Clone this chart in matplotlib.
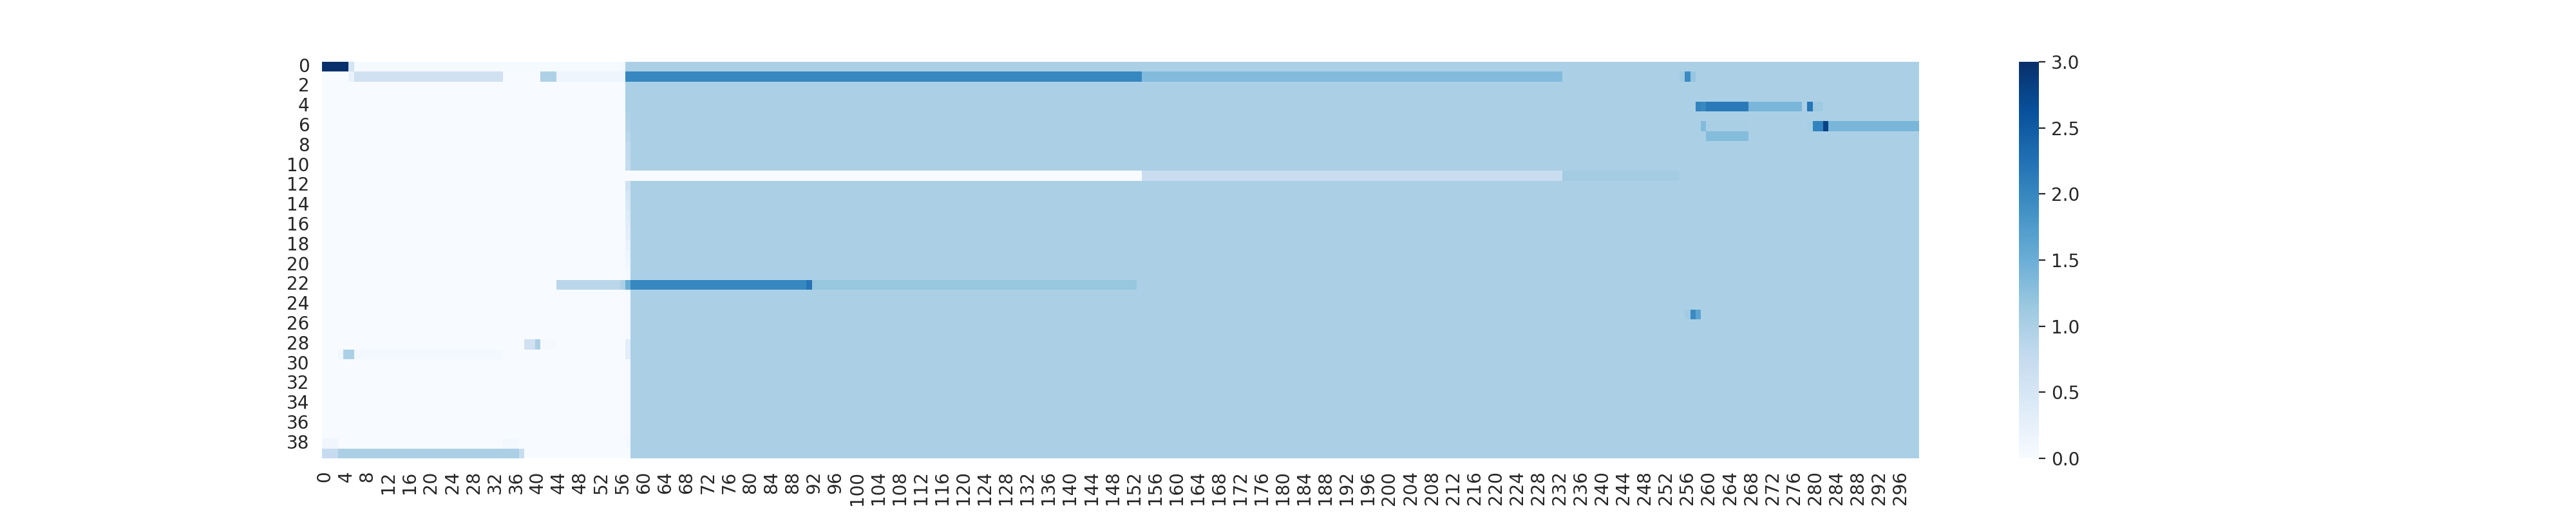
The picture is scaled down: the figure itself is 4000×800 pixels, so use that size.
import numpy as np
import seaborn as sns
from matplotlib import pyplot as plt

n_rows = 40
n_cols = 300

# column 57 is a ramp between the empty left part and the filled right part
col57 = [1.0, 2.0, 1.0, 1.0, 1.0, 0.95, 0.92, 0.86, 0.8, 0.78,
         0.74, 0.0, 0.62, 0.52, 0.45, 0.38, 0.32, 0.27, 0.2, 0.15,
         0.1, 0.05, 1.5, 0.02, 0.02, 0.02, 0.02, 0.02, 0.3, 0.3,
         0.02, 0.02, 0.02, 0.02, 0.02, 0.02, 0.02, 0.02, 0.08, 0.0]

# runs: (row, first col, last col, value)
runs = [
    (0, 0, 4, 3.0), (0, 5, 5, 0.55), (0, 6, 55, 0.03), (0, 56, 56, 0.08),
    (1, 5, 5, 0.2), (1, 6, 33, 0.6), (1, 41, 43, 0.97), (1, 44, 56, 0.14),
    (1, 58, 153, 2.0), (1, 154, 232, 1.33),
    (1, 255, 255, 1.1), (1, 256, 256, 1.95), (1, 257, 257, 1.18),
    (4, 258, 258, 2.03), (4, 259, 259, 1.98), (4, 260, 267, 2.15),
    (4, 268, 277, 1.39), (4, 279, 279, 2.18), (4, 280, 281, 1.12),
    (6, 259, 259, 1.33), (6, 260, 267, 1.02), (6, 279, 279, 1.05),
    (6, 280, 281, 2.05), (6, 282, 282, 2.8), (6, 283, 299, 1.39),
    (7, 260, 267, 1.32),
    (11, 58, 153, 0.0), (11, 154, 232, 0.7), (11, 233, 254, 1.08),
    (22, 44, 55, 0.86), (22, 56, 56, 1.0), (22, 58, 90, 2.0),
    (22, 91, 91, 2.2), (22, 92, 152, 1.18),
    (25, 256, 256, 1.1), (25, 257, 257, 1.95), (25, 258, 258, 1.65),
    (28, 38, 39, 0.6), (28, 40, 40, 1.0), (28, 41, 43, 0.04),
    (29, 3, 3, 0.1), (29, 4, 5, 1.0), (29, 6, 33, 0.08),
    (38, 0, 2, 0.12), (38, 34, 36, 0.08),
    (39, 0, 2, 0.75), (39, 3, 36, 1.0), (39, 37, 37, 0.7),
]

data = np.zeros((n_rows, n_cols))
data[:, 58:] = 1.0
data[:, 57] = col57
for r, c0, c1, v in runs:
    data[r, c0:c1 + 1] = v

sns.set_style('white')
plt.rcParams['font.family'] = ['DejaVu Sans']

plt.figure(figsize=(20, 4))
sns.heatmap(data, cmap='Blues', vmin=0, vmax=3)
plt.savefig('out.png', dpi=200)
